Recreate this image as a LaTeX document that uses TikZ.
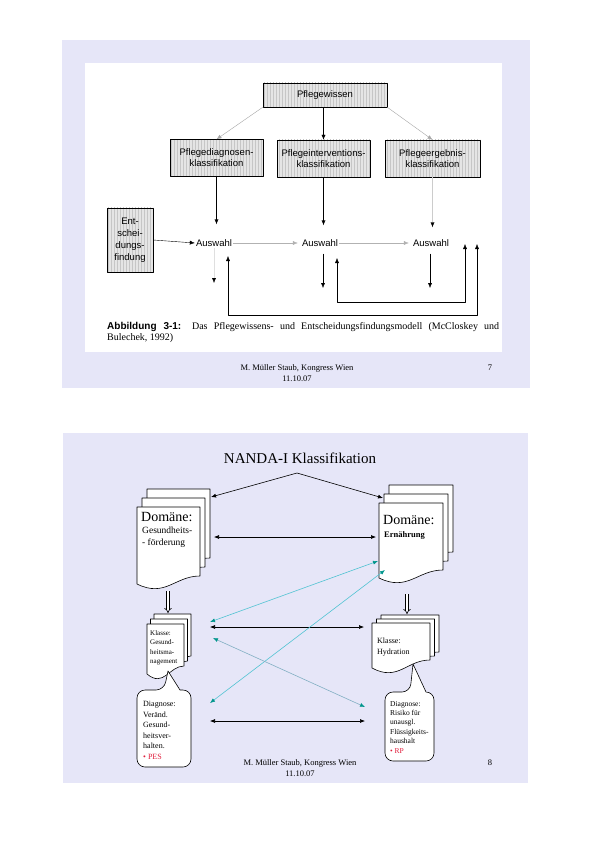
\documentclass[tikz,border=0pt]{standalone}
\usepackage{fontspec}
\setmainfont{Liberation Serif}
\setsansfont{Liberation Sans}
\usepackage{tikz}
\usetikzlibrary{arrows.meta,calc,positioning,patterns}
\definecolor{slidebg}{RGB}{230,230,248}
\definecolor{tealtip}{RGB}{0,150,140}
\definecolor{cyanline}{RGB}{80,195,210}
\definecolor{fadeline}{RGB}{130,175,195}
\definecolor{pesred}{RGB}{225,30,60}
\newcommand\fs[2]{\fontsize{#1}{#2}\selectfont}
% one sheet of a document symbol: x1 x2 ytop ybottom(right)
\newcommand\docpage[4]{%
	\filldraw[docline] (#1,#3) -- (#2,#3) -- (#2,#4)
		.. controls +({-0.4*(#2-#1)},0) and +({0.45*(#2-#1)},14) .. (#1,{#4+8}) -- cycle;}
% stack of three sheets, offset dx dy
\newcommand\docstack[6]{%
	\foreach \k in {2,1,0}{\begin{scope}[shift={({\k*#5},{\k*#6})}]\docpage{#1}{#2}{#3}{#4}\end{scope}}}
\tikzset{
	slide/.style={fill=slidebg,draw=none},
	hatchbox/.style={draw,thin,preaction={fill=gray!20},pattern=vertical lines,pattern color=gray!45,
		font=\sffamily\fs{9.5}{11},align=center,inner sep=1pt},
	plain/.style={font=\sffamily\fs{9.5}{11},inner sep=1pt},
	ar/.style={-{Latex[length=5pt,width=4pt]},thin},
	arr/.style={{Latex[length=5pt,width=4pt]}-{Latex[length=5pt,width=4pt]},thin},
	darr/.style={{Latex[length=5pt,width=4pt]}-{Latex[length=5pt,width=4pt]},semithick},
	carr/.style={{Latex[length=5pt,width=4pt,color=tealtip]}-{Latex[length=5pt,width=4pt,color=tealtip]},
		draw=cyanline,semithick},
	hollow/.style={draw=black,double=white,double distance=2pt,line width=0.6pt,-{Implies}},
	docline/.style={fill=white,draw=black,semithick},
	bubble/.style={fill=white,draw=black,semithick},
	dtext/.style={anchor=north west,inner sep=0pt,align=left},
	foot/.style={font=\fs{8.5}{11},align=center,inner sep=0pt}
}

\begin{document}
\begin{tikzpicture}[x=1pt,y=-1pt,line join=round]
	\useasboundingbox[fill=white] (0,0) rectangle (595,842);
	% Folie 7
	\fill[slide] (62,40) rectangle (530,388);
	\fill[white] (85,63) rectangle (502,352);
	\node[hatchbox,minimum width=124pt,minimum height=24pt] (wissen) at (325,95) {Pflegewissen};
	\node[hatchbox,minimum width=93pt,minimum height=37pt] (diag) at (216.5,158) {Pflegediagnosen-\\klassifikation};
	\node[hatchbox,minimum width=93pt,minimum height=37pt] (interv) at (323.5,158.5) {Pflegeinterventions-\\klassifikation};
	\node[hatchbox,minimum width=95pt,minimum height=37pt] (ergeb) at (432.5,158.5) {Pflegeergebnis-\\klassifikation};
	\node[hatchbox,minimum width=46pt,minimum height=64pt,font=\sffamily\fs{9.5}{12}] (ent) at (130,240) {Ent-\\schei-\\dungs-\\findung};
	\node[plain] (aus1) at (214,243) {Auswahl};
	\node[plain] (aus2) at (320,243) {Auswahl};
	\node[plain] (aus3) at (431,243) {Auswahl};
	\coordinate (down1) at (214,283);
	\coordinate (down2) at (323,288);
	\coordinate (down3) at (430,288);
	\coordinate (backA) at (228,256);
	\coordinate (backB) at (337,258);
	\coordinate (cornA) at (477,315);
	\coordinate (cornB) at (465,302);
	\coordinate (retA) at (477,244);
	\coordinate (retB) at (465,244);
	\draw[ar,draw=gray!70] (wissen.south west) -- (diag.north);
	\draw[ar] (wissen.south -| interv.north) -- (interv.north);
	\draw[ar,draw=gray!70] (wissen.south east) -- (ergeb.north);
	\draw[ar,shorten >=14pt] (diag.south) -- (diag.south |- aus1.north);
	\draw[ar,shorten >=13pt] (interv.south) -- (interv.south |- aus2.north);
	\draw[-{Latex[length=5pt,width=4pt,color=black]},draw=gray!40,thin,shorten >=11pt] (ergeb.south) -- (ergeb.south |- aus3.north);
	\draw[ar] (ent.east) -- (aus1.west);
	\draw[ar,draw=gray!60,shorten >=3pt] (aus1.east) -- (aus2.west);
	\draw[ar,draw=gray!60,shorten >=3pt] (aus2.east) -- (aus3.west);
	\draw[-{Latex[length=5pt,width=4pt,color=black]},draw=gray!25,thin] (aus1.south) -- (down1);
	\draw[ar,shorten <=6pt] (aus2.south -| down2) -- (down2);
	\draw[ar,shorten <=6pt] (aus3.south -| down3) -- (down3);
	\draw[arr] (backA) -- (backA |- cornA) -- (cornA) -- (retA);
	\draw[arr] (backB) -- (backB |- cornB) -- (cornB) -- (retB);
	\node[anchor=north west,text width=392pt,align=justify,inner sep=0pt,font=\fs{10}{11}] (caption) at (107,322)
		{\textsf{\textbf{Abbildung 3-1:}} Das Pflegewissens- und Entscheidungsfindungsmodell (McCloskey und\linebreak Bulechek, 1992)};
	\node[foot] (foot7) at (297,373) {M. Müller Staub, Kongress Wien\\11.10.07};
	\node[foot] (nr7) at (490,368) {7};

	% Folie 8
	\fill[slide] (63,433) rectangle (528,783);
	\node[font=\fs{15}{18}] (title) at (300,458) {NANDA-I Klassifikation};
	\docstack{137}{200}{507}{576}{5}{-9}
	\docstack{379}{443}{503}{570}{5}{-9}
	\docstack{147}{184}{624}{666}{3.5}{-5}
	\docstack{372}{430}{623}{660}{4.5}{-4}
	\node[dtext,font=\fs{14}{16}] (domL) at (141,512) {Domäne:};
	\node[dtext,font=\fs{9.5}{12}] (domLsub) at (142,527) {Gesundheits-\\- förderung};
	\node[dtext,font=\fs{14}{16}] (domR) at (383,515) {Domäne:};
	\node[dtext,font=\bfseries\fs{8.5}{11}] (domRsub) at (384,531) {Ernährung};
	\node[dtext,font=\fs{7}{9.5}] (klaL) at (150,630) {Klasse:\\Gesund-\\heitsma-\\nagement};
	\node[dtext,font=\fs{8}{11}] (klaR) at (377,637.5) {Klasse:\\Hydration};
	\filldraw[bubble] (137,728) [rounded corners=8pt] |- (164,690) [sharp corners] -- (168,671) -- (180,690)
		[rounded corners=8pt] -| (191,767) -| (137,728) -- cycle;
	\filldraw[bubble] (385,726) [rounded corners=8pt] |- (410,692) [sharp corners] -- (413,664) -- (426,692)
		[rounded corners=8pt] -| (434,761) -| (385,726) -- cycle;
	\node[dtext,font=\fs{8}{10.6}] (diaL) at (143,701) {Diagnose:\\Veränd.\\Gesund-\\heitsver-\\halten.\\\textcolor{pesred}{• PES}};
	\node[dtext,font=\fs{7.5}{9.4}] (diaR) at (390,701) {Diagnose:\\Risiko für\\unausgl.\\Flüssigkeits-\\haushalt\\\textcolor{pesred}{• RP}};
	\coordinate (topL) at (211,497);
	\coordinate (peak) at (297,473);
	\coordinate (topR) at (383,498);
	\coordinate (midL) at (214,537);
	\coordinate (midR) at (376,537);
	\coordinate (klL) at (210,627);
	\coordinate (klR) at (364,627);
	\coordinate (diL) at (210,721);
	\coordinate (diR) at (365,721);
	\coordinate (cyL1) at (210,622);
	\coordinate (cyR1) at (378,561);
	\coordinate (cyL2) at (210,703);
	\coordinate (cyR2) at (385,570);
	\coordinate (cyL3) at (213,638);
	\coordinate (cyR3) at (365,707);
	\coordinate (dropL) at (168,591);
	\coordinate (dropLend) at (168,613);
	\coordinate (dropR) at (407,594);
	\coordinate (dropRend) at (407,614);
	\draw[darr] (topL) -- (peak) -- (topR);
	\draw[darr] (midL) -- (midR);
	\draw[darr] (klL) -- (klR);
	\draw[darr] (diL) -- (diR);
	\draw[carr] (cyL1) -- (cyR1);
	\draw[carr] (cyL2) -- (cyR2);
	\draw[carr,draw=fadeline] (cyL3) -- (cyR3);
	\draw[hollow] (dropL) -- (dropLend);
	\draw[hollow] (dropR) -- (dropRend);
	\node[foot] (foot8) at (300,768) {M. Müller Staub, Kongress Wien\\11.10.07};
	\node[foot] (nr8) at (490,763) {8};
\end{tikzpicture}
\end{document}
